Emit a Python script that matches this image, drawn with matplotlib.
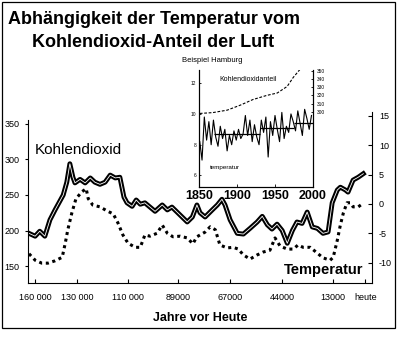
import matplotlib
matplotlib.use("Agg")
import matplotlib.pyplot as plt
from matplotlib.patches import Rectangle

plt.rcParams['font.family'] = ['Liberation Sans', 'DejaVu Sans']
NARROW = ['Liberation Sans Narrow', 'Liberation Sans', 'DejaVu Sans']

# main chart: x in tick units (0 = 160 000 years, 6 = 13 000 years)
tick_pos = [0.16, 0.98, 1.98, 2.96, 3.98, 5.0, 6.0, 6.63]
tick_lbl = ["160 000", "130 000", "110 000", "89000", "67000", "44000", "13000", "heute"]

co2_x = [0.04, 0.16, 0.25, 0.35, 0.45, 0.55, 0.71, 0.78, 0.84, 0.90,
         0.94, 1.04, 1.14, 1.24, 1.33, 1.43, 1.53, 1.63, 1.73, 1.82,
         1.90, 1.96, 2.06, 2.14, 2.22, 2.31, 2.41, 2.51, 2.65, 2.75,
         2.84, 2.94, 3.04, 3.14, 3.24, 3.33, 3.39, 3.49, 3.63, 3.73,
         3.82, 3.88, 3.98, 4.12, 4.24, 4.37, 4.51, 4.61, 4.71, 4.80,
         4.90, 5.00, 5.10, 5.20, 5.29, 5.39, 5.49, 5.59, 5.69, 5.80,
         5.90, 5.98, 6.08, 6.14, 6.24, 6.29, 6.39, 6.49, 6.59]
co2_ppm = [196, 192, 199, 192, 215, 229, 250, 268, 294, 275,
           267, 272, 267, 274, 268, 265, 268, 278, 274, 275,
           247, 239, 234, 243, 237, 239, 233, 227, 236, 229,
           233, 226, 219, 212, 219, 236, 225, 219, 229, 236,
           244, 236, 215, 196, 195, 203, 212, 220, 208, 202,
           209, 200, 182, 200, 212, 210, 226, 205, 203, 196,
           198, 239, 257, 261, 257, 254, 271, 275, 280]

temp_x = [0.04, 0.16, 0.29, 0.41, 0.55, 0.69, 0.75, 0.80, 0.88, 0.96,
          1.08, 1.16, 1.20, 1.29, 1.43, 1.57, 1.69, 1.78, 1.88, 1.98,
          2.12, 2.22, 2.31, 2.41, 2.55, 2.65, 2.75, 2.86, 3.00, 3.14,
          3.25, 3.33, 3.39, 3.49, 3.59, 3.69, 3.78, 3.92, 4.04, 4.14,
          4.24, 4.37, 4.51, 4.63, 4.76, 4.86, 4.96, 5.10, 5.22, 5.31,
          5.41, 5.55, 5.69, 5.80, 5.94, 6.00, 6.08, 6.14, 6.20, 6.27,
          6.33, 6.39, 6.49, 6.57]
temp_c = [-8.5, -9.6, -10.1, -10.1, -9.7, -9.1, -6.7, -4.4, -1.5, 0.9,
          2.1, 2.6, 0.9, -0.2, -0.5, -1.2, -1.7, -3.2, -5.3, -6.7,
          -7.4, -7.4, -5.3, -5.5, -5.0, -3.6, -5.0, -5.6, -5.5, -5.8,
          -6.8, -5.6, -5.3, -4.8, -3.9, -4.4, -7.0, -7.5, -7.4, -7.7,
          -8.7, -9.4, -8.7, -8.2, -7.9, -5.8, -7.2, -7.7, -7.7, -7.0,
          -7.4, -7.4, -8.4, -9.2, -9.6, -9.1, -6.2, -3.6, -1.5, 0.2,
          0.2, -0.5, -0.5, 0.0]

# inset: Hamburg
ham_years = list(range(1851, 2000, 3))
ham_temp = [8.2, 7.0, 9.8, 8.3, 9.5, 8.0, 9.6, 8.5, 7.9, 9.2,
            8.4, 9.0, 7.6, 8.6, 8.0, 8.9, 8.3, 9.0, 8.4, 8.7,
            9.9, 8.6, 9.6, 8.2, 9.3, 8.5, 8.0, 9.6, 8.8, 9.8,
            7.2, 9.5, 8.6, 9.9, 9.0, 8.2, 10.1, 8.4, 9.2, 8.8,
            10.0, 9.5, 8.9, 10.2, 9.4, 8.6, 10.3, 9.7, 9.0, 9.9]
ham_mean = [(1870, 1930, 8.7), (1930, 1975, 9.1), (1975, 2000, 9.4)]
ham_co2_years = [1851, 1868, 1887, 1904, 1921, 1939, 1953, 1966, 1974, 1983]
ham_co2 = [298, 299, 302, 308, 315, 320, 323, 331, 342, 352]

fig = plt.figure(figsize=(4.0, 3.37), dpi=100)

fig.text(0.385, 0.943, "Abhängigkeit der Temperatur vom", ha='center', va='center',
         fontsize=13, fontweight='bold')
fig.text(0.382, 0.875, "Kohlendioxid-Anteil der Luft", ha='center', va='center',
         fontsize=13, fontweight='bold')
fig.patches.append(Rectangle((0.005, 0.027), 0.982, 0.967, transform=fig.transFigure,
                             fill=False, lw=0.9, ec='black'))

ax = fig.add_axes([0.07, 0.16, 0.86, 0.508])
ax2 = ax.twinx()

ax.plot(co2_x, co2_ppm, color='black', lw=3.5, solid_joinstyle='round')
ax.plot(co2_x, co2_ppm, color='white', lw=0.6)
ax2.plot(temp_x, temp_c, color='black', lw=2.2, ls=(0, (1, 1.2)))

ax.set_xlim(0.02, 6.76)
ax.set_ylim(126, 367)
ax2.set_ylim(-13.5, 15.7)
ax.set_xticks(tick_pos)
ax.set_xticklabels(tick_lbl, family=NARROW, fontsize=6.5)
ax.set_yticks([150, 200, 250, 300, 350])
ax.set_yticklabels(['150', '200', '250', '300', '350'], family=NARROW, fontsize=6.5)
ax2.set_yticks([-10, -5, 0, 5, 10, 15])
ax2.set_yticklabels(['-10', '-5', '0', '5', '10', '15'], family=NARROW, fontsize=6.5)
ax.tick_params(axis='x', direction='in', length=3, width=0.8, pad=7)
ax.tick_params(axis='y', direction='out', length=2, width=0.8, pad=4)
ax2.tick_params(axis='y', direction='in', length=3, width=0.8, pad=5)
for s in ['top', 'right']:
    ax.spines[s].set_visible(False)
for s in ['top', 'left', 'bottom']:
    ax2.spines[s].set_visible(False)
ax.spines['left'].set_bounds(126, 355)

ax.text(0.16, 313, "Kohlendioxid", fontsize=11, ha='left', va='center')
ax2.text(6.59, -11.3, "Temperatur", fontsize=10.5, fontweight='bold', ha='right', va='center')
ax.set_xlabel("Jahre vor Heute", fontsize=9, fontweight='bold', labelpad=7)

# inset
axi = fig.add_axes([0.4975, 0.445, 0.285, 0.347])
axi.set_zorder(10)
axi.set_facecolor('white')
axi2 = axi.twinx()
axi2.set_zorder(11)
axi2.patch.set_visible(False)

axi.plot(ham_years, ham_temp, color='black', lw=0.8)
for y0, y1, v in ham_mean:
    axi.hlines(v, y0, y1, color='black', lw=0.9)
axi2.plot(ham_co2_years, ham_co2, color='black', lw=0.8, ls=(0, (2.5, 1.5)))

axi.set_xlim(1850, 2000)
axi.set_ylim(5.25, 12.85)
axi2.set_ylim(208, 351)
axi.set_xticks([1850, 1900, 1950, 2000])
axi.set_xticklabels(['1850', '1900', '1950', '2000'], fontsize=9, fontweight='bold')
axi.set_yticks([6, 8, 10, 12])
axi.set_yticklabels(['6', '8', '10', '12'], fontsize=3.5)
axi2.set_yticks([300, 310, 320, 330, 340, 350])
axi2.set_yticklabels(['300', '310', '320', '330', '340', '350'], fontsize=3.5)
axi.tick_params(axis='x', direction='in', length=2, width=0.6, pad=2)
axi.tick_params(axis='y', direction='in', length=1.5, width=0.6, pad=2)
axi2.tick_params(axis='y', direction='in', length=1.5, width=0.6, pad=3)
axi.spines['top'].set_visible(False)
axi2.spines['top'].set_visible(False)
for sp in list(axi.spines.values()) + list(axi2.spines.values()):
    sp.set_linewidth(0.8)

axi.text(1827, 13.5, "Beispiel Hamburg", fontsize=5.5, ha='left', va='center', clip_on=False)
axi2.text(1953, 339, "Kohlendioxidanteil", fontsize=5, ha='right', va='center')
axi.text(1864, 6.5, "temperatur", fontsize=4.5, ha='left', va='center')

fig.savefig("out.png", dpi=100)
